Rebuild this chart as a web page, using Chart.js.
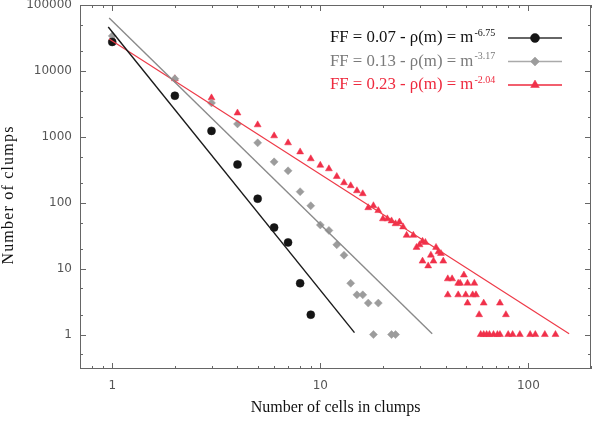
<!DOCTYPE html>
<html><head><meta charset="utf-8">
<script src="https://cdn.jsdelivr.net/npm/chart.js@4.4.1/dist/chart.umd.min.js"></script>
<style>html,body{margin:0;padding:0;background:#fff;} #wrap{width:600px;height:421px;position:relative;}</style>
</head><body><div id="wrap"><canvas id="c"></canvas></div>
<script>
// ---- data ----
const blackX = [1, 2, 3, 4, 5, 6, 7, 8, 9];
const blackY = [27500, 4200, 1230, 380, 115, 42, 25, 6, 2];

const grayX = [1, 2, 3, 4, 5, 6, 7, 8, 9, 10, 11, 12, 13, 14, 15, 16, 17, 19, 18, 22, 23];
const grayY = [34000, 7600, 3270, 1570, 810, 417, 305, 147, 90, 46, 38, 23, 16, 6, 4, 4, 3, 3, 1, 1, 1];

const redX = [1, 2, 3, 4, 5, 6, 7, 8, 9, 10, 11, 12, 13, 14, 15, 16, 17, 18, 19, 20, 21, 22, 23, 24, 25,
  26, 28, 29, 30, 31, 32, 31, 33, 35, 34, 36, 37, 39, 38, 41, 43, 49, 46, 47, 51, 55, 41, 46, 50, 54, 56,
  51, 61, 73, 58, 78, 59, 61, 63, 65, 68, 71, 73, 80, 84, 91, 102, 108, 120, 135];
const redY = [30500, 7600, 3900, 2300, 1520, 1035, 810, 590, 464, 370, 327, 250, 201, 181, 152, 137, 84, 90, 76, 57, 57, 53, 48, 51, 43,
  32, 32, 21, 23, 26, 25, 13, 11, 13, 16, 21, 18, 13, 17, 7, 7, 8, 6, 6, 6, 6, 4, 4, 4, 4, 4,
  3, 3, 3, 2, 2, 1, 1, 1, 1, 1, 1, 1, 1, 1, 1, 1, 1, 1, 1];

// fitted power-law lines (end points)
const blackFitX = [0.957, 14.6];
const blackFitY = [46400, 1.07];
const grayFitX = [0.967, 34.5];
const grayFitY = [63500, 1.03];
const redFitX = [0.967, 157];
const redFitY = [30500, 1.03];

const xTickLabels = [1, 10, 100];
const yTickLabels = [1, 10, 100, 1000, 10000, 100000];

const legendMain = ["FF = 0.07 - \u03c1(m) = m", "FF = 0.13 - \u03c1(m) = m", "FF = 0.23 - \u03c1(m) = m"];
const legendExp = ["-6.75", "-3.17", "-2.04"];

const xTitle = "Number of cells in clumps";
const yTitle = "Number of clumps";

// ---- styles ----
const C_BLACK = '#151515', C_GRAY = '#9c9c9c', C_RED = '#f0304a';
const L_BLACK = '#1a1a1a', L_GRAY = '#8a8a8a', L_RED = '#ee3a48';
const T_BLACK = '#111111', T_GRAY = '#7a7a7a', T_RED = '#ee2a3e';
const legendStyles = [
  {text: T_BLACK, line: '#333', point: C_BLACK, shape: 'circle', r: 4.5},
  {text: T_GRAY, line: '#aaa', point: C_GRAY, shape: 'rectRot', r: 4.5},
  {text: T_RED, line: T_RED, point: C_RED, shape: 'triangle', r: 5}
];

function pts(xs, ys) { return xs.map((x, i) => ({x: x, y: ys[i]})); }

const datasets = [
  {data: pts(blackFitX, blackFitY), showLine: true, borderColor: L_BLACK, borderWidth: 1.4, pointRadius: 0, fill: false},
  {data: pts(grayFitX, grayFitY), showLine: true, borderColor: L_GRAY, borderWidth: 1.4, pointRadius: 0, fill: false},
  {data: pts(redFitX, redFitY), showLine: true, borderColor: L_RED, borderWidth: 1.2, pointRadius: 0, fill: false},
  {data: pts(blackX, blackY), showLine: false, pointStyle: 'circle', pointRadius: 4, backgroundColor: C_BLACK, borderColor: C_BLACK, borderWidth: 0.5},
  {data: pts(grayX, grayY), showLine: false, pointStyle: 'rectRot', pointRadius: 4, backgroundColor: C_GRAY, borderColor: C_GRAY, borderWidth: 0.5},
  {data: pts(redX, redY), showLine: false, pointStyle: 'triangle', pointRadius: 4, backgroundColor: C_RED, borderColor: C_RED, borderWidth: 0.5}
];

// frame + inward ticks on all four sides
const frameTicks = {
  id: 'frameTicks',
  afterDatasetsDraw(chart) {
    const {ctx, chartArea: a, scales: {x, y}} = chart;
    ctx.save();
    ctx.strokeStyle = '#666';
    ctx.lineWidth = 1;
    ctx.strokeRect(a.left + 0.5, a.top + 0.5, a.right - a.left - 1, a.bottom - a.top - 1);
    ctx.beginPath();
    for (let e = -1; e <= 3; e++) {
      for (let k = 1; k <= 9; k++) {
        const v = k * Math.pow(10, e);
        if (v < x.min || v > x.max) continue;
        const px = Math.round(x.getPixelForValue(v)) + 0.5;
        const len = k === 1 ? 6 : 3;
        ctx.moveTo(px, a.bottom); ctx.lineTo(px, a.bottom - len);
        ctx.moveTo(px, a.top); ctx.lineTo(px, a.top + len);
      }
    }
    for (let e = -1; e <= 5; e++) {
      for (const k of [1, 2, 5]) {
        const v = k * Math.pow(10, e);
        if (v < y.min || v > y.max) continue;
        const py = Math.round(y.getPixelForValue(v)) + 0.5;
        const len = k === 1 ? 6 : 3;
        ctx.moveTo(a.left, py); ctx.lineTo(a.left + len, py);
        ctx.moveTo(a.right, py); ctx.lineTo(a.right - len, py);
      }
    }
    ctx.stroke();
    ctx.restore();
  }
};

// vertical axis title (slightly spaced out, as in the reference)
const yTitlePlugin = {
  id: 'yTitlePlugin',
  afterDraw(chart) {
    const {ctx, chartArea: a} = chart;
    ctx.save();
    ctx.translate(9, (a.top + a.bottom) / 2 + 8);
    ctx.rotate(-Math.PI / 2);
    ctx.font = '16px "Liberation Serif"';
    ctx.fillStyle = '#111';
    ctx.textAlign = 'center';
    ctx.textBaseline = 'middle';
    try { ctx.letterSpacing = '1.2px'; } catch (e) {}
    ctx.fillText(yTitle, 0, 0);
    ctx.restore();
  }
};

// legend with superscript exponents
const supLegend = {
  id: 'supLegend',
  afterDraw(chart) {
    const {ctx, chartArea: a} = chart;
    ctx.save();
    const textX = a.right - 261;
    const lineX0 = a.right - 83, lineX1 = a.right - 29;
    for (let i = 0; i < legendMain.length; i++) {
      const st = legendStyles[i];
      const base = a.top + 37 + i * 23.5;
      ctx.fillStyle = st.text;
      ctx.textBaseline = 'alphabetic';
      ctx.textAlign = 'left';
      ctx.font = '16.8px "Liberation Serif"';
      ctx.fillText(legendMain[i], textX, base);
      const w = ctx.measureText(legendMain[i]).width;
      ctx.font = '10px "Liberation Serif"';
      ctx.fillText(legendExp[i], textX + w + 1, base - 6.5);
      const ly = base - 4;
      ctx.strokeStyle = st.line;
      ctx.lineWidth = 1.5;
      ctx.beginPath(); ctx.moveTo(lineX0, ly); ctx.lineTo(lineX1, ly); ctx.stroke();
      ctx.fillStyle = st.point;
      ctx.strokeStyle = st.point;
      ctx.lineWidth = 0.5;
      Chart.helpers.drawPoint(ctx, {pointStyle: st.shape, radius: st.r, borderWidth: 0.5, rotation: 0}, (lineX0 + lineX1) / 2, ly);
    }
    ctx.restore();
  }
};

new Chart(document.getElementById('c'), {
  type: 'scatter',
  data: {datasets: datasets},
  plugins: [frameTicks, supLegend, yTitlePlugin],
  options: {
    responsive: true, maintainAspectRatio: false, animation: false,
    layout: {padding: {top: 5, right: 9, left: 0, bottom: 0}},
    plugins: {legend: {display: false}, tooltip: {enabled: false}},
    scales: {
      x: {
        type: 'logarithmic', position: 'bottom', min: 0.7, max: 200,
        afterBuildTicks: s => { s.ticks = xTickLabels.map(v => ({value: v})); },
        afterFit: s => { s.height = 52; s.paddingLeft = 0; s.paddingRight = 0; },
        ticks: {autoSkip: false, maxRotation: 0, minRotation: 0, padding: 10, color: '#555',
          font: {family: 'DejaVu Sans', size: 12}, callback: v => String(v)},
        grid: {display: false, drawTicks: false},
        border: {display: false},
        title: {display: true, text: xTitle, color: '#111', font: {family: 'Liberation Serif', size: 16}, padding: {top: 0, bottom: 4}}
      },
      y: {
        type: 'logarithmic', position: 'left', min: 0.3, max: 100000,
        afterBuildTicks: s => { s.ticks = yTickLabels.map(v => ({value: v})); },
        afterFit: s => { s.width = 80; s.paddingTop = 0; s.paddingBottom = 0; },
        ticks: {autoSkip: false, padding: 8, color: '#555',
          font: {family: 'DejaVu Sans', size: 12}, callback: v => String(v)},
        grid: {display: false, drawTicks: false},
        border: {display: false},
        title: {display: false}
      }
    }
  }
});
</script>
</body></html>
